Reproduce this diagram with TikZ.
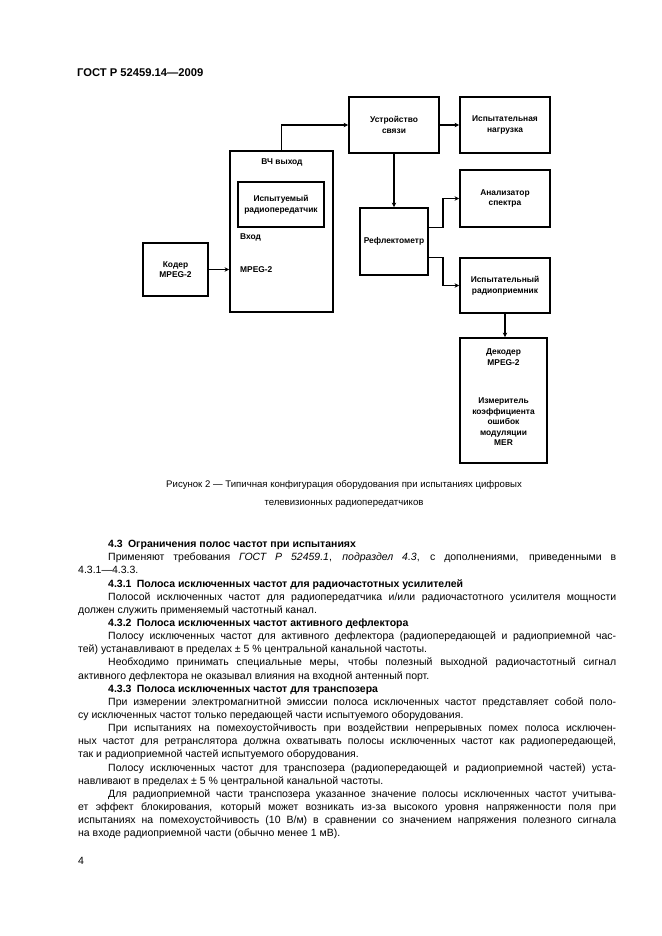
\documentclass[tikz,border=0pt]{standalone}
\usepackage{fontspec}
\setmainfont{Liberation Sans}
\usetikzlibrary{arrows.meta}
\newcommand\bodyfont{\fontsize{10.5}{12}\selectfont}
\newcommand\boxfont{\fontsize{8.4}{10.5}\selectfont\bfseries}
\newcommand\capfont{\fontsize{9.6}{12}\selectfont}
\newcommand\jbox[2]{\hbox to #1pt{#2}}
\begin{document}
\begin{tikzpicture}[x=1pt,y=-1pt,
    box/.style={draw, line width=1.8pt, inner sep=1pt, align=center, font=\boxfont},
    lbl/.style={inner sep=0pt, align=center, font=\boxfont},
    arr/.style={line width=1.4pt, -{Stealth[length=4.5pt,width=4.5pt]}},
    ln/.style={anchor=mid west, inner sep=0pt, font=\bodyfont},
    hd/.style={ln, font=\bodyfont\bfseries}]
\useasboundingbox (0,0) rectangle (661,936);
\fill[white] (0,0) rectangle (661,936);

% page header
\node[anchor=base west, inner sep=0pt, font=\fontsize{11.2}{13}\selectfont\bfseries] (head) at (77,77) {ГОСТ Р 52459.14—2009};

% diagram
\node[box, minimum width=65pt, minimum height=53pt] (coder) at (175.5,269.5) {Кодер\\MPEG-2};
\node[box, minimum width=103pt, minimum height=161pt] (tx) at (281.5,231.5) {};
\node[box, minimum width=86pt, minimum height=45pt] (dut) at (281,204.5) {Испытуемый\\радиопередатчик};
\node[lbl] (rfout) at (282,162) {ВЧ выход};
\node[lbl, anchor=mid west] (inp) at (240,237) {Вход};
\node[lbl, anchor=mid west] (inmpeg) at (240,270) {MPEG-2};
\node[box, minimum width=90pt, minimum height=56pt] (coup) at (394,125) {Устройство\\связи};
\node[box, minimum width=90pt, minimum height=56pt] (load) at (505,125) {Испытательная\\нагрузка};
\node[box, minimum width=68pt, minimum height=67pt] (refl) at (394,241.5) {Рефлектометр};
\node[box, minimum width=90pt, minimum height=57pt] (anal) at (505,198.5) {Анализатор\\спектра};
\node[box, minimum width=90pt, minimum height=55pt] (recv) at (505,285.5) {Испытательный\\радиоприемник};
\node[box, minimum width=87pt, minimum height=125pt] (dec) at (503.5,400.5) {};
\node[lbl] (decname) at (503.5,357) {Декодер\\MPEG-2};
\node[lbl] (mer) at (503.5,422) {Измеритель\\коэффициента\\ошибок\\модуляции\\MER};

\draw[arr] (coder.east) -- (coder.east -| tx.west);
\draw[arr] (tx.north) |- (coup.west);
\draw[arr] (coup) -- (load);
\draw[arr] (coup) -- (refl);
\draw[arr] ([yshift=14pt]refl.east) -- ++(14,0) |- (anal.west);
\draw[arr] ([yshift=-16pt]refl.east) -- ++(14,0) |- (recv.west);
\draw[arr] (recv.south) -- (recv.south |- dec.north);

% caption
\node[inner sep=0pt, font=\capfont] (cap1) at (344,485) {Рисунок 2 — Типичная конфигурация оборудования при испытаниях цифровых};
\node[inner sep=0pt, font=\capfont] (cap2) at (344,504) {телевизионных радиопередатчиков};

% text
\node[hd] (l0) at (108,545.0) {4.3\enspace Ограничения полос частот при испытаниях};
\node[ln] (l1) at (108,558.1) {\jbox{508}{Применяют требования \textit{ГОСТ Р 52459.1}, \textit{подраздел 4.3}, с дополнениями, приведенными в}};
\node[ln] (l2) at (78,571.3) {4.3.1—4.3.3.};
\node[hd] (l3) at (108,584.4) {4.3.1\enspace Полоса исключенных частот для радиочастотных усилителей};
\node[ln] (l4) at (108,597.6) {\jbox{508}{Полосой исключенных частот для радиопередатчика и/или радиочастотного усилителя мощности}};
\node[ln] (l5) at (78,610.7) {должен служить применяемый частотный канал.};
\node[hd] (l6) at (108,623.8) {4.3.2\enspace Полоса исключенных частот активного дефлектора};
\node[ln] (l7) at (108,637.0) {\jbox{508}{Полосу исключенных частот для активного дефлектора (радиопередающей и радиоприемной час-}};
\node[ln] (l8) at (78,650.1) {тей) устанавливают в пределах ± 5 \% центральной канальной частоты.};
\node[ln] (l9) at (108,663.3) {\jbox{508}{Необходимо принимать специальные меры, чтобы полезный выходной радиочастотный сигнал}};
\node[ln] (l10) at (78,676.4) {активного дефлектора не оказывал влияния на входной антенный порт.};
\node[hd] (l11) at (108,689.5) {4.3.3\enspace Полоса исключенных частот для транспозера};
\node[ln] (l12) at (108,702.7) {\jbox{508}{При измерении электромагнитной эмиссии полоса исключенных частот представляет собой поло-}};
\node[ln] (l13) at (78,715.8) {су исключенных частот только передающей части испытуемого оборудования.};
\node[ln] (l14) at (108,729.0) {\jbox{508}{При испытаниях на помехоустойчивость при воздействии непрерывных помех полоса исключен-}};
\node[ln] (l15) at (78,742.1) {\jbox{538}{ных частот для ретранслятора должна охватывать полосы исключенных частот как радиопередающей,}};
\node[ln] (l16) at (78,755.2) {так и радиоприемной частей испытуемого оборудования.};
\node[ln] (l17) at (108,768.4) {\jbox{508}{Полосу исключенных частот для транспозера (радиопередающей и радиоприемной частей) уста-}};
\node[ln] (l18) at (78,781.5) {навливают в пределах ± 5 \% центральной канальной частоты.};
\node[ln] (l19) at (108,794.7) {\jbox{508}{Для радиоприемной части транспозера указанное значение полосы исключенных частот учитыва-}};
\node[ln] (l20) at (78,807.8) {\jbox{538}{ет эффект блокирования, который может возникать из-за высокого уровня напряженности поля при}};
\node[ln] (l21) at (78,820.9) {\jbox{538}{испытаниях на помехоустойчивость (10 В/м) в сравнении со значением напряжения полезного сигнала}};
\node[ln] (l22) at (78,834.1) {на входе радиоприемной части (обычно менее 1 мВ).};

\node[ln] (pg) at (78,862) {4};
\end{tikzpicture}
\end{document}
